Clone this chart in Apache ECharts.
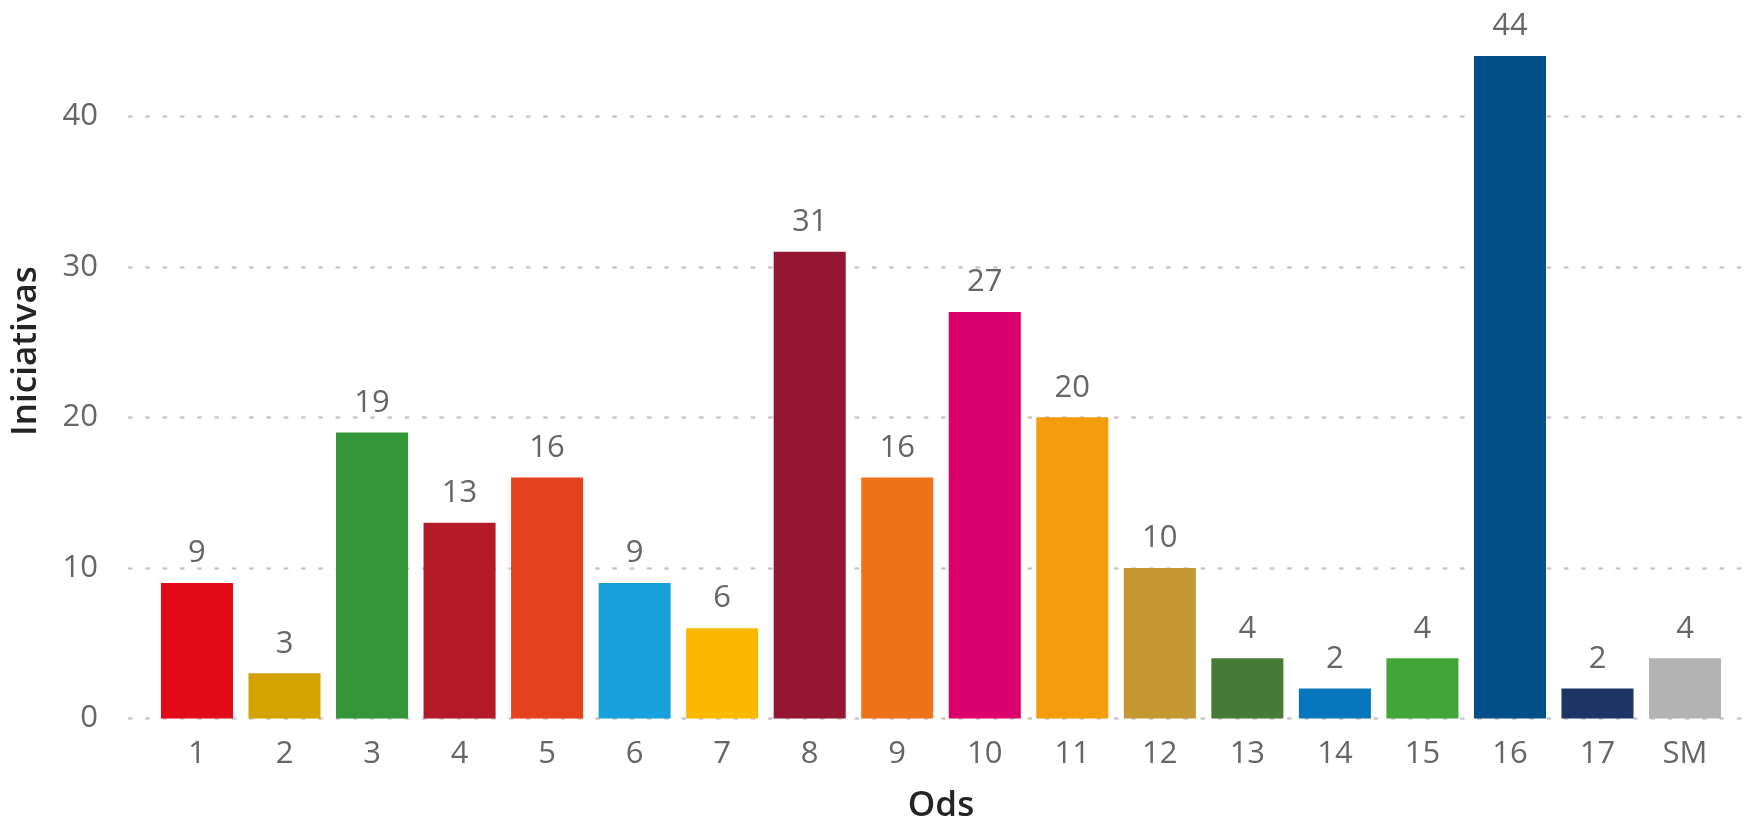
<!DOCTYPE html>
<html>
<head>
<meta charset="utf-8">
<script src="https://cdn.jsdelivr.net/npm/echarts@6/dist/echarts.min.js"></script>
<style>
html,body{margin:0;padding:0;background:#fff;}
#chart{width:1759px;height:822px;}
</style>
</head>
<body>
<div id="chart"></div>
<script>
const categories = ['1','2','3','4','5','6','7','8','9','10','11','12','13','14','15','16','17','SM'];
const values = [9,3,19,13,16,9,6,31,16,27,20,10,4,2,4,44,2,4];
const colors = ['#E20A17','#D4A300','#33973A','#B51A29','#E6411E','#18A0DA','#FAB800','#941632','#EE7219','#DC006E','#F59C0D','#C59731','#487A37','#0876BD','#41A637','#004F88','#1F3466','#B3B3B3'];
const yTicks = [0,10,20,30,40];
const yTitle = 'Iniciativas';
const xTitle = 'Ods';

(function(){
const chart = echarts.init(document.getElementById('chart'));
const labelFont = '"Segoe UI","Open Sans",sans-serif';
const gTop = 56, gBottom = 103.5;
chart.setOption({
  animation: false,
  graphic: [{
    type: 'text',
    x: 26, y: 351,
    rotation: Math.PI/2,
    style: {
      text: yTitle, fill: '#252423',
      font: '600 35px "Open Sans", sans-serif',
      align: 'center', verticalAlign: 'middle'
    }
  }],
  grid: [
    {left: 129, right: 7, top: gTop, bottom: gBottom, containLabel: false, outerBoundsMode: 'none'},
    {left: 153.2, right: 30.2, top: gTop, bottom: gBottom, containLabel: false, outerBoundsMode: 'none'}
  ],
  xAxis: [
    {gridIndex: 0, type: 'value', min: 0, max: 1, show: false},
    {gridIndex: 1, type: 'category', data: categories,
     axisLine: {show: false}, axisTick: {show: false},
     axisLabel: {color: '#666666', fontSize: 31, fontFamily: labelFont, margin: 20},
     name: xTitle, nameLocation: 'middle', nameGap: 70,
     nameTextStyle: {color: '#252423', fontSize: 35, fontWeight: 600, fontFamily: '"Open Sans", sans-serif'}}
  ],
  yAxis: [
    {gridIndex: 0, type: 'value', min: 0, max: 44, interval: 10,
     axisLine: {show: false}, axisTick: {show: false},
     axisLabel: {color: '#666666', fontSize: 31, fontFamily: labelFont, margin: 31,
       showMaxLabel: false,
       formatter: v => yTicks.includes(v) ? String(v) : ''},
     splitLine: {show: true, showMaxLine: false,
       lineStyle: {color: '#C8C8C8', width: 2.5, type: [2.5, 14.8], cap: 'round'}}},
    {gridIndex: 1, type: 'value', min: 0, max: 44, show: false, splitLine: {show: false}}
  ],
  series: [{
    type: 'bar',
    xAxisIndex: 1, yAxisIndex: 1,
    data: values.map((v, i) => ({value: v, itemStyle: {color: colors[i]}})),
    barCategoryGap: '17.7%',
    label: {show: true, position: 'top', distance: 14, color: '#666666', fontSize: 31, fontFamily: labelFont}
  }]
});
})();
</script>
</body>
</html>
